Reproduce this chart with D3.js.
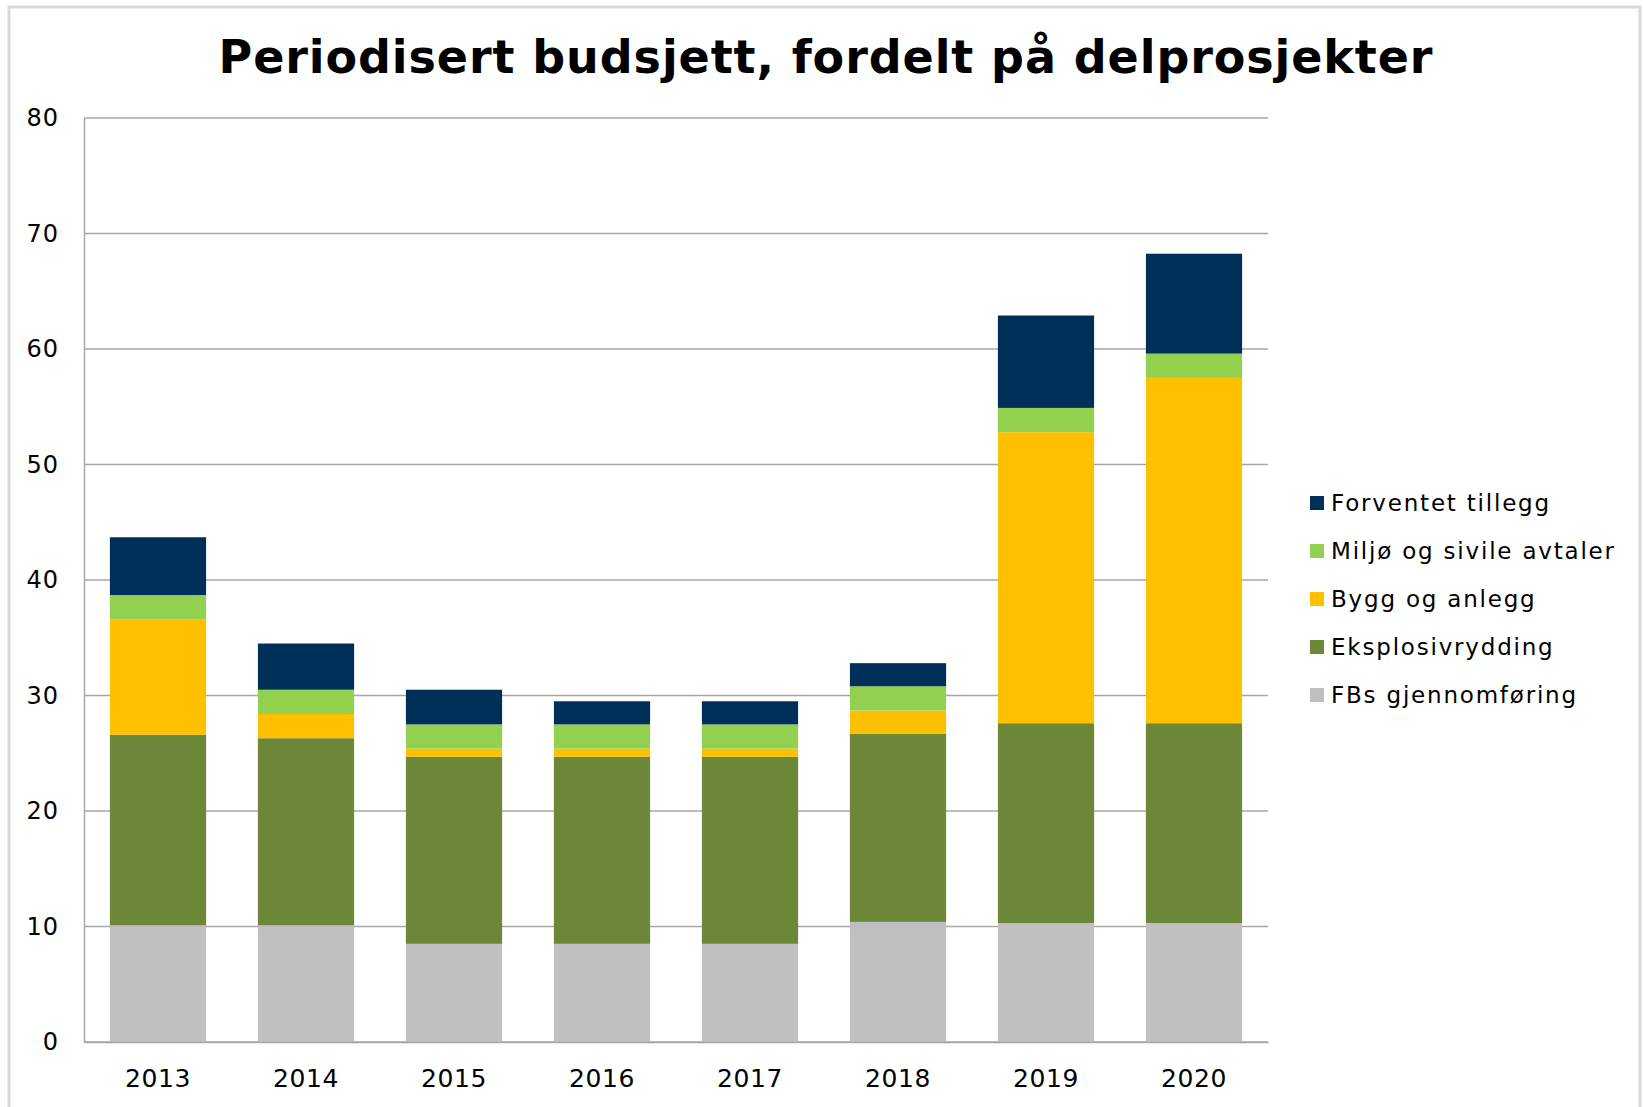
<!DOCTYPE html>
<html>
<head>
<meta charset="utf-8">
<script src="https://cdn.jsdelivr.net/npm/d3@7"></script>
<style>
  body { margin: 0; background: #fff; }
  text { font-family: "DejaVu Sans", Verdana, sans-serif; fill: #000; }
</style>
</head>
<body>
<div class="chart"></div>
<script>
// Data (mill. kr)
const years = ["2013", "2014", "2015", "2016", "2017", "2018", "2019", "2020"];
const seriesNames = ["FBs gjennomføring", "Eksplosivrydding", "Bygg og anlegg", "Miljø og sivile avtaler", "Forventet tillegg"];
const fbs = [10.1, 10.1, 8.5, 8.5, 8.5, 10.4, 10.3, 10.3];
const eksplosiv = [16.5, 16.2, 16.2, 16.2, 16.2, 16.3, 17.3, 17.3];
const bygg = [10.0, 2.1, 0.7, 0.7, 0.7, 2.0, 25.2, 29.9];
const miljo = [2.1, 2.1, 2.1, 2.1, 2.1, 2.1, 2.1, 2.1];
const tillegg = [5.0, 4.0, 3.0, 2.0, 2.0, 2.0, 8.0, 8.65];
const yTicks = [0, 10, 20, 30, 40, 50, 60, 70, 80];
const colors = ["#bfbfbf", "#6b8737", "#ffc000", "#92d050", "#00305a"];

const seriesValues = [fbs, eksplosiv, bygg, miljo, tillegg];
const data = years.map((y, i) => {
    const row = { year: y };
    seriesNames.forEach((s, j) => row[s] = seriesValues[j][i]);
    return row;
});

const W = 1643, H = 1107;
const margin = { top: 118, right: 375, bottom: 65, left: 84 };
const width = W - margin.left - margin.right;
const height = H - margin.top - margin.bottom;

const svg = d3.select(".chart").append("svg")
    .attr("width", W)
    .attr("height", H);

// outer frame of the chart area
svg.append("rect")
    .attr("x", 9).attr("y", 7)
    .attr("width", 1631).attr("height", 1120)
    .attr("fill", "none")
    .attr("stroke", "#d9d9d9")
    .attr("stroke-width", 3);

// title
svg.append("text")
    .attr("x", 826)
    .attr("y", 73)
    .attr("text-anchor", "middle")
    .style("font-size", "46px")
    .style("font-weight", "bold")
    .style("letter-spacing", "0.9px")
    .text("Periodisert budsjett, fordelt på delprosjekter");

const g = svg.append("g")
    .attr("transform", `translate(${margin.left},${margin.top})`);

const x = d3.scaleBand()
    .domain(years)
    .range([0, width])
    .paddingInner(0.35)
    .paddingOuter(0.175);

const y = d3.scaleLinear()
    .domain([0, 80])
    .range([height, 0]);

// gridlines
g.append("g")
    .selectAll("line")
    .data(yTicks)
    .enter().append("line")
    .attr("x1", 0)
    .attr("x2", width)
    .attr("y1", d => y(d))
    .attr("y2", d => y(d))
    .attr("stroke", "#a6a6a6")
    .attr("stroke-width", 1.5);

// stacked bars
const stack = d3.stack().keys(seriesNames);
const layers = stack(data);

g.selectAll(".layer")
    .data(layers)
    .enter().append("g")
    .attr("class", "layer")
    .attr("fill", (d, i) => colors[i])
    .selectAll("rect")
    .data(d => d)
    .enter().append("rect")
    .attr("x", d => x(d.data.year))
    .attr("width", x.bandwidth())
    .attr("y", d => y(d[1]))
    .attr("height", d => y(d[0]) - y(d[1]));

// y axis
const yAxis = g.append("g")
    .call(d3.axisLeft(y).tickValues(yTicks).tickSize(0).tickPadding(25));
yAxis.select(".domain").attr("stroke", "#a6a6a6").attr("stroke-width", 1.5);
yAxis.selectAll("text")
    .style("font-size", "24px")
    .style("letter-spacing", "1px")
    .style("font-family", "DejaVu Sans, Verdana, sans-serif");

// x axis
const xAxis = g.append("g")
    .attr("transform", `translate(0,${height})`)
    .call(d3.axisBottom(x).tickSize(0).tickPadding(27));
xAxis.select(".domain").attr("stroke", "#a6a6a6").attr("stroke-width", 1.5);
xAxis.selectAll("text")
    .style("font-size", "25px")
    .style("letter-spacing", "0.6px")
    .style("font-family", "DejaVu Sans, Verdana, sans-serif");

// legend (top entry is the top series)
const legendItems = seriesNames.map((s, i) => ({ name: s, color: colors[i] })).reverse();
const legend = svg.append("g")
    .attr("transform", "translate(1310,496)");

const li = legend.selectAll(".li")
    .data(legendItems)
    .enter().append("g")
    .attr("class", "li")
    .attr("transform", (d, i) => `translate(0,${i * 48})`);

li.append("rect")
    .attr("width", 14)
    .attr("height", 14)
    .attr("fill", d => d.color);

li.append("text")
    .attr("x", 21)
    .attr("y", 15)
    .style("font-size", "23px")
    .style("letter-spacing", "1.8px")
    .text(d => d.name);
</script>
</body>
</html>
